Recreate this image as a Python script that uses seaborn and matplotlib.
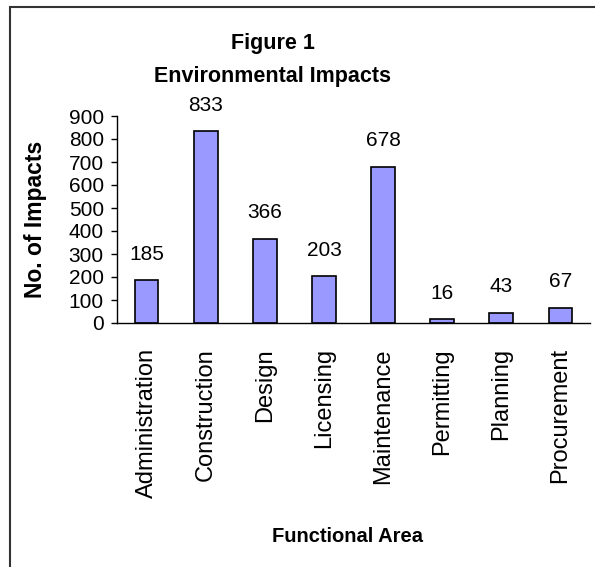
import matplotlib
matplotlib.use("Agg")
import matplotlib.pyplot as plt
import matplotlib.patches as patches
import seaborn as sns
import pandas as pd
import numpy as np

# data
areas = ["Administration", "Construction", "Design", "Licensing",
         "Maintenance", "Permitting", "Planning", "Procurement"]
impacts = [185, 833, 366, 203, 678, 16, 43, 67]
y_ticks = [0, 100, 200, 300, 400, 500, 600, 700, 800, 900]

sns.set_style("white")
plt.rcParams['font.family'] = ['Liberation Sans', 'DejaVu Sans']
plt.rcParams.update({"text.color": "black", "axes.labelcolor": "black",
                     "xtick.color": "black", "ytick.color": "black"})

df = pd.DataFrame({"area": areas, "impacts": impacts})

fig = plt.figure(figsize=(5.95, 5.67), dpi=100)
ax = fig.add_axes([117/595, 1 - 323/567, 473/595, (323 - 116)/567])

sns.barplot(data=df, x="area", y="impacts", color="#9999FF", saturation=1,
            width=0.4, edgecolor="black", linewidth=1.2, ax=ax)

ax.set_ylim(0, 900)
ax.set_xlim(-0.5, len(areas) - 0.5)
ax.set_yticks(y_ticks)
ax.set_yticklabels([str(v) for v in y_ticks], fontsize=15)
ax.set_xticks(range(len(areas)))
ax.set_xticklabels(areas, rotation=90, fontsize=17, va="top", ha="center")
ax.set_xticks(np.arange(-0.5, len(areas)), minor=True)
ax.tick_params(axis="x", which="major", length=0, pad=18)
ax.tick_params(axis="x", which="minor", length=6, width=1, color="black", direction="out")
ax.tick_params(axis="y", length=4.5, width=1, color="black", direction="out", pad=5, left=True)

for side in ["top", "right"]:
    ax.spines[side].set_visible(False)
for side in ["left", "bottom"]:
    ax.spines[side].set_color("black")
    ax.spines[side].set_linewidth(1)

ax.bar_label(ax.containers[0], labels=[str(v) for v in impacts], padding=12, fontsize=15)

ax.set_ylabel("No. of Impacts", fontsize=16.5, fontweight="bold")
ax.yaxis.set_label_coords(-0.148, 0.5)
ax.set_xlabel("")

fig.text(273/595, 1 - 44/567, "Figure 1", ha="center", va="center",
         fontsize=15.5, fontweight="bold")
fig.text(273/595, 1 - 77/567, "Environmental Impacts", ha="center", va="center",
         fontsize=15.5, fontweight="bold")
fig.text(348/595, 1 - 537/567, "Functional Area", ha="center", va="center",
         fontsize=14.5, fontweight="bold")

# outer chart frame (cropped on right and bottom)
frame = patches.Rectangle((10/595, -0.1), 1.2, 1.1 - 7/567, transform=fig.transFigure,
                          fill=False, edgecolor="#333333", linewidth=1.5, clip_on=False)
fig.patches.append(frame)

fig.savefig("out.png", dpi=100)
